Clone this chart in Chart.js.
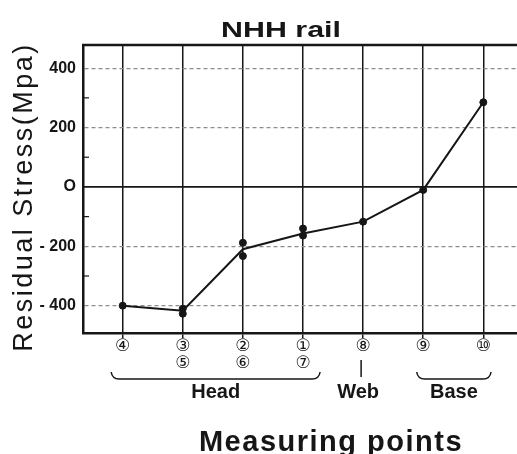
<!DOCTYPE html>
<html><head><meta charset="utf-8">
<script src="https://cdn.jsdelivr.net/npm/chart.js@4/dist/chart.umd.min.js"></script>
<style>html,body{margin:0;padding:0;background:#fff;} #wrap{width:517px;height:454px;}</style>
</head><body><div id="wrap"><canvas id="c" width="517" height="454"></canvas></div>
<script>
// ---- data ----
const chartTitle = 'NHH rail';
const yAxisTitle = 'Residual Stress(Mpa)';
const xAxisTitle = 'Measuring points';
const pointPositions = [0, 1, 2, 3, 4, 5, 6];
const xTickLabels = [['④'], ['③', '⑤'], ['②', '⑥'], ['①', '⑦'], ['⑧'], ['⑨'], ['⑩']];
const lineValues = [-400, -417, -210, -157, -117, -10, 285];
const markerPositions = [0, 1, 1, 2, 2, 3, 3, 4, 5, 6];
const markerValues = [-400, -410, -427, -188, -233, -140, -164, -117, -10, 285];
const yTickValues = [-400, -300, -200, -100, 0, 100, 200, 300, 400];
const yMajorValues = [-400, -200, 0, 200, 400];
const yTickLabels = ['- 400', '- 200', 'O', '200', '400'];
const groupNames = ['Head', 'Web', 'Base'];
const groupFrom = [0, 4, 5];
const groupTo = [3, 4, 6];

const FONT = '"Liberation Sans", Arial, sans-serif';
const INK = '#161616';

const decor = {
  id: 'decor',
  beforeDatasetsDraw(chart) {
    const {ctx, chartArea: a, scales: {x, y}} = chart;
    ctx.save();
    ctx.strokeStyle = INK;
    ctx.lineWidth = 1.6;
    const y0 = y.getPixelForValue(0);
    ctx.beginPath(); ctx.moveTo(a.left, y0); ctx.lineTo(a.right, y0); ctx.stroke();
    ctx.lineWidth = 1.2;
    yTickValues.forEach(v => {
      if (yMajorValues.includes(v)) return;
      const py = y.getPixelForValue(v);
      ctx.beginPath(); ctx.moveTo(a.left, py); ctx.lineTo(a.left + 6, py); ctx.stroke();
    });
    ctx.lineWidth = 2.5;
    ctx.beginPath(); ctx.moveTo(a.left - 1, a.top); ctx.lineTo(a.right, a.top); ctx.stroke();
    ctx.restore();
  },
  afterDraw(chart) {
    const {ctx, chartArea: a, scales: {x}} = chart;
    ctx.save();
    ctx.fillStyle = INK;
    ctx.strokeStyle = INK;
    ctx.textBaseline = 'alphabetic';
    ctx.textAlign = 'center';
    // chart title (wide lettering)
    ctx.save();
    ctx.translate(281, 37);
    ctx.scale(1.38, 1);
    ctx.font = 'bold 22px ' + FONT;
    ctx.fillText(chartTitle, 0, 0);
    ctx.restore();
    // x title
    ctx.font = 'bold 29px ' + FONT;
    ctx.letterSpacing = '1.5px';
    ctx.fillText(xAxisTitle, 331, 451);
    // y title
    ctx.save();
    ctx.translate(32, 197);
    ctx.rotate(-Math.PI / 2);
    ctx.font = '27px ' + FONT;
    ctx.letterSpacing = '2.5px';
    ctx.fillText(yAxisTitle, 0, 0);
    ctx.restore();
    // group brackets
    ctx.letterSpacing = '0px';
    ctx.lineWidth = 1.5;
    ctx.font = 'bold 20px ' + FONT;
    ctx.textBaseline = 'middle';
    groupNames.forEach((name, i) => {
      const p1 = x.getPixelForValue(groupFrom[i]);
      const p2 = x.getPixelForValue(groupTo[i]);
      const span = groupTo[i] - groupFrom[i];
      let cx;
      if (span === 0) {
        cx = p1 - 5;
        ctx.beginPath(); ctx.moveTo(p1 - 2, 360); ctx.lineTo(p1 - 2, 377); ctx.stroke();
      } else {
        const x1 = p1 - (4 + 2.5 * span), x2 = p2 + (3 + 4.7 * span);
        cx = (x1 + x2) / 2;
        ctx.beginPath();
        ctx.moveTo(x1, 372);
        ctx.quadraticCurveTo(x1 + 1, 379, x1 + 8, 379);
        ctx.lineTo(x2 - 8, 379);
        ctx.quadraticCurveTo(x2 - 1, 379, x2, 372);
        ctx.stroke();
      }
      ctx.fillText(name, cx, 392);
    });
    ctx.restore();
  }
};

new Chart(document.getElementById('c'), {
  type: 'line',
  data: {
    datasets: [
      {
        data: pointPositions.map((p, i) => ({x: p, y: lineValues[i]})),
        borderColor: INK, borderWidth: 2, pointRadius: 0, tension: 0, fill: false
      },
      {
        type: 'scatter',
        data: markerPositions.map((p, i) => ({x: p, y: markerValues[i]})),
        showLine: false, pointRadius: 3.5, pointBackgroundColor: INK,
        pointBorderColor: INK, pointBorderWidth: 1
      }
    ]
  },
  options: {
    responsive: false,
    devicePixelRatio: 1,
    animation: false,
    layout: {autoPadding: false, padding: {top: 45, left: 0, right: 0, bottom: 0}},
    plugins: {legend: {display: false}, tooltip: {enabled: false}, title: {display: false}},
    scales: {
      x: {
        type: 'linear', min: -0.66, max: 6.56,
        afterBuildTicks: s => { s.ticks = pointPositions.map(v => ({value: v})); },
        afterFit: s => { s.height = 121; s.paddingLeft = 0; s.paddingRight = 0; },
        ticks: {
          autoSkip: false, maxRotation: 0, padding: 1,
          color: INK,
          font: {family: '"DejaVu Sans", sans-serif', size: 17, lineHeight: 0.95},
          callback: (v, i) => xTickLabels[i]
        },
        grid: {color: INK, lineWidth: 1.5, drawTicks: true, tickLength: 5},
        border: {display: true, color: INK, width: 2.5}
      },
      y: {
        type: 'linear', min: -492, max: 478,
        afterBuildTicks: s => { s.ticks = yTickValues.map(v => ({value: v})); },
        afterFit: s => { s.width = 83; s.paddingTop = 0; s.paddingBottom = 0; },
        ticks: {
          autoSkip: false, padding: 7, color: INK,
          font: {family: FONT, size: 16, weight: 'bold'},
          callback: v => { const k = yMajorValues.indexOf(v); return k >= 0 ? yTickLabels[k] : ''; }
        },
        grid: {
          drawTicks: false, lineWidth: 1.2,
          color: c => (c.tick && yMajorValues.includes(c.tick.value) && c.tick.value !== 0) ? '#8c8c8c' : 'rgba(0,0,0,0)'
        },
        border: {display: true, color: INK, width: 2.5, dash: [4, 3]}
      }
    }
  },
  plugins: [decor]
});
</script>
</body></html>
